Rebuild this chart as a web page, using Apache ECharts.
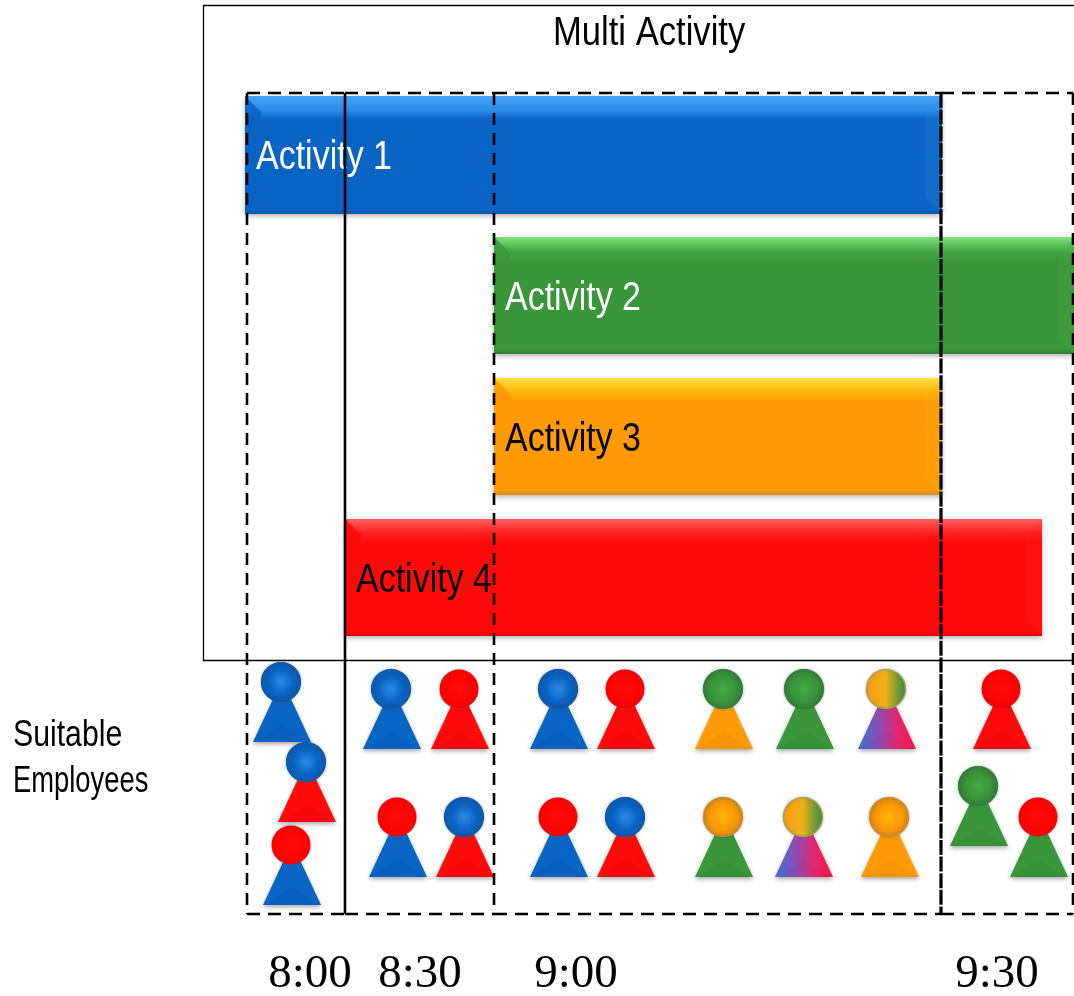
<!DOCTYPE html>
<html><head><meta charset="utf-8">
<style>html,body{margin:0;padding:0;background:#fff}#c{width:1074px;height:996px}</style>
<script src="https://cdn.jsdelivr.net/npm/echarts@6/dist/echarts.min.js"></script>
</head><body><div id="c"></div>
<script>
// Values, in the chart's own axis units
const chartTitle = 'Multi Activity';
const activityNames = ['Activity 1', 'Activity 2', 'Activity 3', 'Activity 4'];
const activityStart = [245, 494, 494, 345];
const activityEnd = [942, 1074, 942, 1042];
const activityTop = [96, 237, 378, 519];
const activityBottom = [214, 354, 495, 636];
const activityKind = ['blue', 'green', 'orange', 'red'];
const slotEdges = [247, 345, 494, 941, 1073];
const slotLabels = ['8:00', '8:30', '9:00', '9:30'];
const slotLabelX = [310, 420, 576, 997];
const employeeX = [281, 306, 291, 391, 459, 397, 464, 558, 625, 723, 804, 886, 558, 625, 723, 803, 889, 1001, 978, 1038];
const employeeY = [682, 762, 845, 689, 689, 817, 817, 689, 689, 689, 689, 689, 817, 817, 817, 817, 817, 689, 786, 817];
const employeeHead = ['blue','blue','red','blue','red','red','blue','blue','red','green','green','mix','red','blue','orange','mix','orange','red','green','red'];
const employeeBody = ['blue','red','blue','blue','red','blue','red','blue','red','orange','green','mix','blue','red','green','mix','orange','red','green','green'];
const sideLabels = ['Suitable', 'Employees'];

const palette = {
  blue:   {base:'#0a64c4', top:'#45a6f8', dark:'#0a58ac', hi:'#2b8be6'},
  green:  {base:'#3a963a', top:'#80e480', dark:'#2f7f34', hi:'#45a845'},
  orange: {base:'#fd9a05', top:'#ffe23c', dark:'#d78a18', hi:'#ffb30d'},
  red:    {base:'#fe0a0a', top:'#ff6060', dark:'#e00505', hi:'#ff1e1e'}
};
const LG = (x,y,x2,y2,s)=>({type:'linear',x,y,x2,y2,colorStops:s.map(a=>({offset:a[0],color:a[1]}))});
const RG = (s)=>({type:'radial',x:.5,y:.5,r:.5,colorStops:s.map(a=>({offset:a[0],color:a[1]}))});
const SANS = '"Liberation Sans", Arial, sans-serif';

function txt(pt, text, size, fill, sx, family){
  return {type:'text', x:pt[0], y:pt[1], scaleX:sx, scaleY:1, z2:60,
    style:{text, fontFamily:family||SANS, fontSize:size, fill, align:'left', verticalAlign:'middle',
           textAlign:'left', textVerticalAlign:'middle'}};
}

const bars = {
  type:'custom', coordinateSystem:'cartesian2d', silent:true, z:2, clip:false,
  data: activityNames.map((n,i)=>[activityStart[i],activityTop[i],activityEnd[i],activityBottom[i]]),
  renderItem(p, api){
    const i = p.dataIndex, a = api.coord([api.value(0),api.value(1)]), b = api.coord([api.value(2),api.value(3)]);
    const c = palette[activityKind[i]], w=b[0]-a[0], h=b[1]-a[1], bev=16;
    const kids = [
      {type:'rect', shape:{x:a[0],y:a[1],width:w,height:h},
       style:{fill:LG(0,0,0,1,[[0,c.top],[.12,c.hi],[.2,c.base],[.96,c.base],[1,c.dark]]),
              shadowBlur:5, shadowColor:'rgba(0,0,0,.3)', shadowOffsetY:2}},
      {type:'polygon', shape:{points:[[a[0],a[1]],[a[0]+bev,a[1]+bev],[a[0]+bev,b[1]-bev],[a[0],b[1]]]}, style:{fill:c.base, opacity:.85}},
      {type:'polygon', shape:{points:[[b[0],a[1]],[b[0]-bev,a[1]+bev],[b[0]-bev,b[1]-bev],[b[0],b[1]]]}, style:{fill:c.hi, opacity:.2}}
    ];
    const light = i < 2 ? '#ffffff' : '#000000';
    kids.push(txt([a[0]+11,(a[1]+b[1])/2+3], activityNames[i], 40, light, 0.85));
    return {type:'group', children:kids};
  }
};

const frame = {
  type:'custom', coordinateSystem:'cartesian2d', silent:true, z:1, clip:false,
  data:[[203,5,1076,660]],
  renderItem(p, api){
    const a = api.coord([api.value(0),api.value(1)]), b = api.coord([api.value(2),api.value(3)]);
    return {type:'rect', shape:{x:a[0]+.5,y:a[1]+.5,width:b[0]-a[0],height:b[1]-a[1]},
      style:{fill:'none', stroke:'#000', lineWidth:1.3}};
  }
};

const people = {
  type:'custom', coordinateSystem:'cartesian2d', silent:true, z:3, clip:false,
  data: employeeX.map((x,i)=>[x,employeeY[i]]),
  renderItem(p, api){
    const i = p.dataIndex, c = api.coord([api.value(0),api.value(1)]), cx=c[0], cy=c[1];
    const hk = employeeHead[i], bk = employeeBody[i], bx = cx+1;
    let bodyFill, headFill, headStroke;
    if (bk === 'mix') bodyFill = LG(0,0,1,0,[[0,'#3b6fd8'],[.35,'#8a4fb4'],[.7,'#e8246e'],[1,'#f01848']]);
    else bodyFill = palette[bk].base;
    if (hk === 'mix') { headFill = LG(0,0,1,0,[[0,'#fb9c10'],[.5,'#eeb018'],[.8,'#6f9a34'],[1,'#3e8f3c']]); headStroke='#a7a050'; }
    else if (hk === 'red') { headFill = RG([[0,'#ff0c0c'],[.85,'#fc0303'],[1,'#ee0505']]); headStroke=null; }
    else { const q=palette[hk]; headFill = RG([[0,q.hi],[.6,q.base],[1,q.dark]]); headStroke=q.dark; }
    const kids = [
      {type:'polygon', shape:{points:[[bx-8,cy+15],[bx+8,cy+15],[bx+29,cy+60],[bx-29,cy+60]]},
       style:{fill:bodyFill, shadowBlur:4, shadowColor:'rgba(0,0,0,.35)', shadowOffsetY:2}},
      {type:'polygon', shape:{points:[[bx,cy+42],[bx+27,cy+60],[bx-27,cy+60]]},
       style:{fill:'rgba(0,0,0,.025)'}},
      {type:'circle', shape:{cx,cy,r:19.5},
       style:{fill:headFill, stroke:headStroke, lineWidth:headStroke?1.2:0, shadowBlur:3, shadowColor:'rgba(90,90,120,.45)'}}
    ];
    return {type:'group', children:kids};
  }
};

const slots = {
  type:'custom', coordinateSystem:'cartesian2d', silent:true, z:5, clip:false,
  data: slotEdges.map(x=>[x]),
  renderItem(p, api){
    const i = p.dataIndex, x = api.coord([api.value(0),93])[0];
    const t = api.coord([0,93])[1], b = api.coord([0,914])[1];
    const dash = i===1 ? null : (i===3 ? [15,1.6] : [12,8]);
    const kids = [{type:'line', shape:{x1:x,y1:t,x2:x,y2:b}, style:{stroke:'#000', lineWidth:i===3?3.2:2.6, lineDash:dash}}];
    if (i < slotEdges.length-1) {
      const x2 = api.coord([slotEdges[i+1],0])[0];
      kids.push({type:'line', shape:{x1:x,y1:t,x2:x2,y2:t}, style:{stroke:'#000',lineWidth:2.4,lineDash:[13,8]}});
      kids.push({type:'line', shape:{x1:x,y1:b,x2:x2,y2:b}, style:{stroke:'#000',lineWidth:2.4,lineDash:[13,8]}});
    }
    return {type:'group', children:kids};
  }
};

const texts = {
  type:'custom', coordinateSystem:'cartesian2d', silent:true, z:6, clip:false,
  data:[[0]],
  renderItem(p, api){
    const kids = [
      txt(api.coord([553,34]), chartTitle, 40, '#000', 0.865),
      txt(api.coord([13,736]), sideLabels[0], 36, '#000', 0.84),
      txt(api.coord([13,782]), sideLabels[1], 36, '#000', 0.76)
    ];
    slotLabels.forEach((s,i)=>{
      const t = txt(api.coord([slotLabelX[i],975]), s, 47, '#000', 1, '"Liberation Serif", serif');
      t.style.align = t.style.textAlign = 'center';
      kids.push(t);
    });
    return {type:'group', children:kids};
  }
};

echarts.init(document.getElementById('c'), null, {renderer:'canvas'}).setOption({
  animation:false, backgroundColor:'#fff',
  grid:{left:0,right:0,top:0,bottom:0},
  xAxis:{type:'value',min:0,max:1074,show:false},
  yAxis:{type:'value',min:0,max:996,inverse:true,show:false},
  series:[frame,bars,people,slots,texts]
});
</script></body></html>
